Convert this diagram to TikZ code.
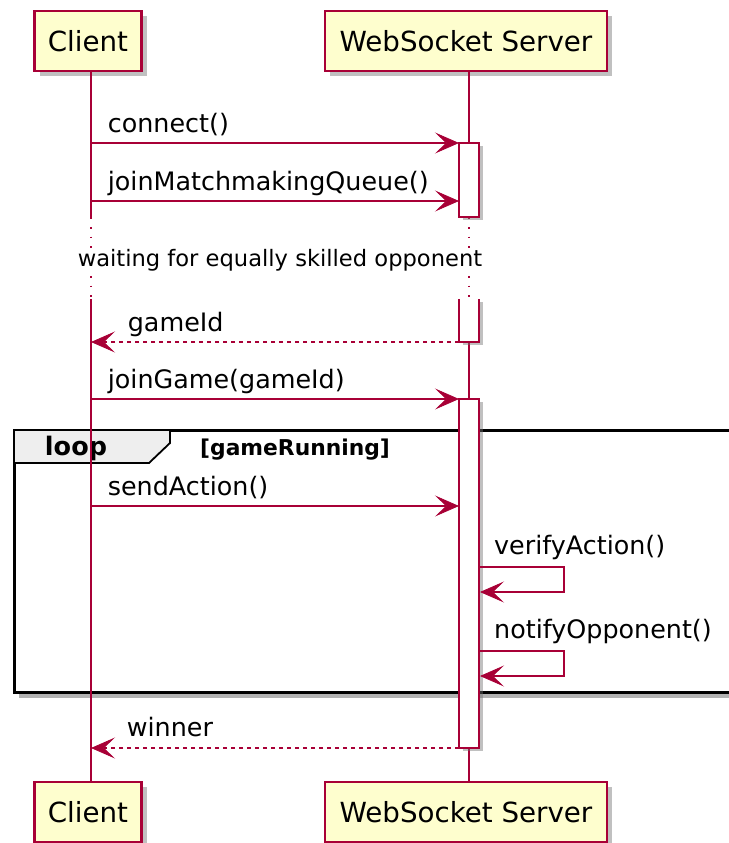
\documentclass[tikz,border=0pt]{standalone}
\usepackage{fontspec}
\setmainfont{DejaVu Sans}
\usetikzlibrary{positioning, arrows.meta, shadows}
\definecolor{umlred}{HTML}{A80036}
\definecolor{umlfill}{HTML}{FEFECE}
\definecolor{umlgrey}{HTML}{EEEEEE}

\begin{document}
\begin{tikzpicture}[
    x=1pt, y=-1pt,
    participant/.style={
        draw=umlred,
        fill=umlfill,
        line width=2.6pt,
        minimum height=60pt,
        inner sep=0pt,
        font=\fontsize{27.7}{33}\selectfont,
        drop shadow={shadow xshift=5pt, shadow yshift=-5pt, fill=black!55, opacity=.45}
    },
    lifeline/.style={draw=umlred, line width=1.6pt},
    delayline/.style={draw=umlred, line width=1.8pt, dash pattern=on 1.8pt off 8pt},
    actbar/.style={
        rectangle,
        fill=white,
        minimum width=20pt,
        inner sep=0pt,
        drop shadow={shadow xshift=4pt, shadow yshift=-3pt, fill=black!55, opacity=.45}
    },
    barline/.style={draw=umlred, line width=2pt},
    msg/.style={draw=umlred, line width=1.7pt,
        -{Stealth[length=24pt, width=21pt, inset=11pt, line width=0.8pt]}},
    reply/.style={msg, dash pattern=on 4pt off 4pt},
    msgtext/.style={anchor=base west, inner sep=0pt, text=black, font=\fontsize{25.4}{30}\selectfont},
    loopframe/.style={draw=black, line width=3pt},
    looptab/.style={draw=black, fill=umlgrey, line width=1.8pt}
]

\useasboundingbox (0,0) rectangle (728,843);

%% ── Participants ─────────────────────────────────────────────────────────────
\node[participant, minimum width=107pt] (client)  at (88,41)  {Client};
\node[participant, minimum width=282pt] (server)  at (466,41) {WebSocket Server};
\node[participant, minimum width=107pt] (clientB) at (88,812)  {Client};
\node[participant, minimum width=282pt] (serverB) at (466,812) {WebSocket Server};

%% ── Loop frame ───────────────────────────────────────────────────────────────
\coordinate (loopNW) at (14,430);
\coordinate (loopSE) at (745,692);
\draw[black!30, line width=4pt] (19,696) -- (750,696);
\draw[loopframe] (loopNW) rectangle (loopSE);
\draw[looptab] (loopNW) -- (170,430) -- (170,443) -- (149,463) -- (14,463) -- cycle;
\node[anchor=base, inner sep=0pt, font=\fontsize{25.5}{30}\selectfont\bfseries] (loopkw) at (76,455) {loop};
\node[anchor=base west, inner sep=0pt, font=\fontsize{21.8}{26}\selectfont\bfseries] (loopguard) at (200,455) {[gameRunning]};

%% ── Lifelines with delay ─────────────────────────────────────────────────────
\coordinate (cd1) at (91,217);
\coordinate (cd2) at (91,299);
\coordinate (sd1) at (469,217);
\coordinate (sd2) at (469,299);

\draw[lifeline] (client.south -| cd1) -- (cd1);
\draw[delayline] (cd1) -- (cd2);
\draw[lifeline] (cd2) -- (clientB.north -| cd2);

\draw[lifeline] (server.south -| sd1) -- (sd1);
\draw[delayline] (sd1) -- (sd2);
\draw[lifeline] (sd2) -- (serverB.north -| sd2);

\node[fill=white, inner sep=1pt, anchor=base, font=\fontsize{22.6}{27}\selectfont] (delay) at (280,266)
    {waiting for equally skilled opponent};

%% ── Activation bars ──────────────────────────────────────────────────────────
\node[actbar, minimum height=74pt] (bar1) at (469,180) {};
\draw[barline] (bar1.north west) rectangle (bar1.south east);

\node[actbar, minimum height=43pt] (bar2) at (469,320.5) {};
\draw[barline] (bar2.north west) -- (bar2.south west) -- (bar2.south east) -- (bar2.north east);

\node[actbar, minimum height=349pt] (bar3) at (469,573.5) {};
\draw[barline] (bar3.north west) rectangle (bar3.south east);

%% ── Messages ─────────────────────────────────────────────────────────────────
\coordinate (c1) at (91,143);  \coordinate (s1) at (459,143);
\coordinate (c2) at (91,201);  \coordinate (s2) at (459,201);
\coordinate (c3) at (91,342);  \coordinate (s3) at (459,342);
\coordinate (c4) at (91,399);  \coordinate (s4) at (459,399);
\coordinate (c5) at (91,506);  \coordinate (s5) at (459,506);
\coordinate (c8) at (91,748);  \coordinate (s8) at (459,748);

\draw[msg] (c1) -- (s1) node[msgtext, pos=0, xshift=16pt, yshift=11pt] {connect()};
\draw[msg] (c2) -- (s2) node[msgtext, pos=0, xshift=16pt, yshift=11pt] {joinMatchmakingQueue()};
\draw[reply] (s3) -- (c3) node[msgtext, pos=1, xshift=36pt, yshift=11pt] {gameId};
\draw[msg] (c4) -- (s4) node[msgtext, pos=0, xshift=16pt, yshift=11pt] {joinGame(gameId)};
\draw[msg] (c5) -- (s5) node[msgtext, pos=0, xshift=16pt, yshift=11pt] {sendAction()};

%% ── Self messages ────────────────────────────────────────────────────────────
\coordinate (v1) at (479,567); \coordinate (v2) at (564,592); \coordinate (v3) at (480,592);
\coordinate (n1) at (479,651); \coordinate (n2) at (564,676); \coordinate (n3) at (480,676);

\draw[msg] (v1) -| (v2) -- (v3);
\node[msgtext] (verify) at (494,554) {verifyAction()};
\draw[msg] (n1) -| (n2) -- (n3);
\node[msgtext] (notify) at (494,638) {notifyOpponent()};

%% ── Result ───────────────────────────────────────────────────────────────────
\draw[reply] (s8) -- (c8) node[msgtext, pos=1, xshift=35pt, yshift=12pt] {winner};

\end{tikzpicture}
\end{document}
